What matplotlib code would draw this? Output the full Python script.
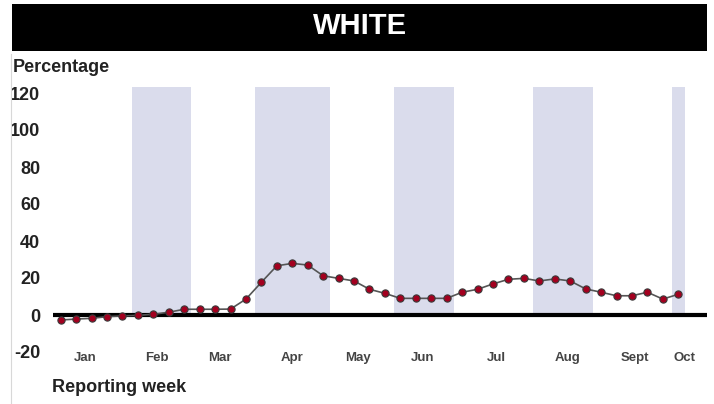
import matplotlib.pyplot as plt
from matplotlib.patches import Rectangle
from matplotlib.lines import Line2D
from matplotlib.transforms import ScaledTranslation

plt.rcParams['font.family'] = ['Liberation Sans', 'DejaVu Sans']

# weekly percentage (reporting weeks 1..41)
weeks = list(range(1, 42))
pct = [-2.7, -2.2, -1.8, -0.9, -0.5, -0.2, 0.4, 1.5, 3.1, 3.1,
       3.1, 3.2, 8.6, 17.7, 26.6, 27.9, 27.0, 21.2, 19.8, 18.4,
       13.9, 11.7, 9.0, 9.0, 9.0, 9.0, 12.3, 13.9, 16.8, 19.3,
       19.8, 18.4, 19.5, 18.4, 14.1, 12.3, 10.4, 10.4, 12.3, 8.6,
       11.2]

# months shaded alternately (first week, last week)
shaded_months = [(6, 9), (14, 18), (23, 26), (32, 35), (41, 41)]

months = ['Jan', 'Feb', 'Mar', 'Apr', 'May', 'Jun', 'Jul', 'Aug', 'Sept', 'Oct']
month_pos = [2.57, 7.22, 11.32, 15.98, 20.25, 24.46, 29.2, 33.8, 38.18, 41.43]

yticks = [-20, 0, 20, 40, 60, 80, 100, 120]

W, H = 714, 404
fig = plt.figure(figsize=(W / 100, H / 100), dpi=100)

# title bar
fig.patches.append(Rectangle((12 / W, 1 - 51 / H), (707 - 12) / W, 47 / H,
                             transform=fig.transFigure, facecolor='black',
                             edgecolor='none'))
fig.text(360 / W, 1 - 26 / H, 'WHITE', color='white', fontsize=21,
         fontweight='bold', ha='center', va='center')

# faint frame line on the left
fig.add_artist(Line2D([11 / W, 11 / W], [0, 1 - 54 / H], color='#d8d8d8',
                      lw=0.8, transform=fig.transFigure))

ax = fig.add_axes([52.7 / W, 33.5 / H, (707 - 52.7) / W, 283.05 / H])
ylo, yhi = -30, 123
ax.set_xlim(0.482, 42.86)
ax.set_ylim(ylo, yhi)

for a, b in shaded_months:
    ax.axvspan(a - 0.4, b + 0.45, ymin=(0 - ylo) / (yhi - ylo), ymax=1,
               facecolor='#dadcec', edgecolor='none', zorder=0)

ax.axhline(0, color='black', lw=3, zorder=2)

ax.plot(weeks, pct, color='#555555', lw=1.2, marker='o', markersize=5.2,
        markerfacecolor='#a3001f', markeredgecolor='#3a3a3a',
        markeredgewidth=0.8, zorder=3)

for m, x in zip(months, month_pos):
    ax.text(x, -23, m, ha='center', va='center', fontsize=9.5,
            fontweight='bold', color='#444444')

ax.set_yticks(yticks)
ax.set_yticklabels([str(v) for v in yticks], fontsize=13, fontweight='bold',
                   color='#222222')
shift = ScaledTranslation(0, -2 / 100, fig.dpi_scale_trans)
for lbl in ax.get_yticklabels():
    lbl.set_transform(lbl.get_transform() + shift)
ax.set_xticks([])
ax.tick_params(axis='y', length=0, pad=9)
for s in ax.spines.values():
    s.set_visible(False)

fig.text(13 / W, 1 - 68 / H, 'Percentage', fontsize=13, fontweight='bold',
         color='#222222', ha='left', va='center')
fig.text(52 / W, 1 - 388 / H, 'Reporting week', fontsize=13,
         fontweight='bold', color='#222222', ha='left', va='center')

fig.savefig('out.png', dpi=100)
